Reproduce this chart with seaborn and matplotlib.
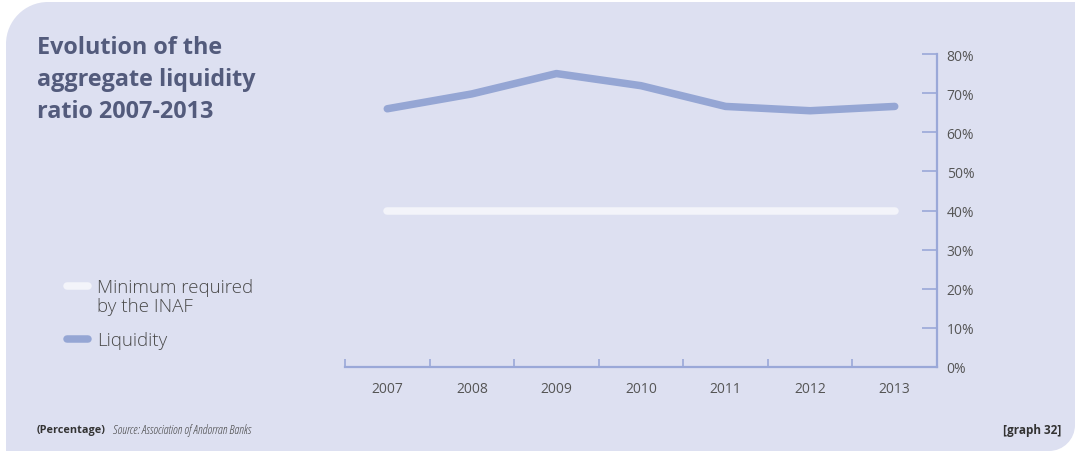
import numpy as np
import pandas as pd
import matplotlib
matplotlib.use("Agg")
import matplotlib.pyplot as plt
import seaborn as sns
from matplotlib.path import Path
from matplotlib.patches import PathPatch
from matplotlib.transforms import Affine2D
from matplotlib.lines import Line2D

# --- data -------------------------------------------------------------
years = ["2007", "2008", "2009", "2010", "2011", "2012", "2013"]
liquidity = [66.0, 69.8, 75.0, 71.9, 66.6, 65.5, 66.6]
minimum_required = [40, 40, 40, 40, 40, 40, 40]
y_ticks = [0, 10, 20, 30, 40, 50, 60, 70, 80]
series_names = ["Minimum required\nby the INAF", "Liquidity"]

# --- style ------------------------------------------------------------
PANEL = "#dde0f1"
LIQ = "#95a6d4"
MINC = "#f3f4fa"
AXIS = "#9aa8d8"
TITLE = "#535b7c"
TEXT = "#4a4a4a"

sns.set_theme(style="white")
plt.rcParams["font.family"] = ["Open Sans", "DejaVu Sans"]

W, H = 1077, 456
fig = plt.figure(figsize=(W / 100, H / 100), dpi=100)
fig.patch.set_facecolor("white")

# rounded panel: large radius top-left, small radius bottom-right
def panel_path(x0, y0, x1, y1, r_tl, r_br):
    k = 0.5523
    verts = [
        (x0, y0),                       # bottom-left (square)
        (x1 - r_br, y0),
        (x1 - r_br + k * r_br, y0), (x1, y0 + r_br - k * r_br), (x1, y0 + r_br),
        (x1, y1),                       # top-right (square)
        (x0 + r_tl, y1),
        (x0 + r_tl - k * r_tl, y1), (x0, y1 - r_tl + k * r_tl), (x0, y1 - r_tl),
        (x0, y0),
    ]
    codes = [Path.MOVETO, Path.LINETO,
             Path.CURVE4, Path.CURVE4, Path.CURVE4,
             Path.LINETO, Path.LINETO,
             Path.CURVE4, Path.CURVE4, Path.CURVE4,
             Path.CLOSEPOLY]
    return Path(verts, codes)

px = Affine2D().scale(1 / W, 1 / H) + fig.transFigure
panel = PathPatch(panel_path(6, H - 452, 1075, H - 3, 42, 26),
                  facecolor=PANEL, edgecolor="none", transform=px, zorder=-5)
fig.patches.append(panel)

# --- chart ------------------------------------------------------------
ax = fig.add_axes([345 / W, (H - 368) / H, (937 - 345) / W, (368 - 55) / H])
ax.set_facecolor("none")
ax.set_zorder(2)

df = pd.DataFrame({
    "year": years * 2,
    "value": minimum_required + liquidity,
    "series": [series_names[0]] * len(years) + [series_names[1]] * len(years),
})
sns.lineplot(data=df, x="year", y="value", hue="series",
             palette={series_names[0]: MINC, series_names[1]: LIQ},
             linewidth=5.4, sort=False, legend=False, ax=ax)
for ln in ax.lines:
    ln.set_solid_capstyle("round")
    ln.set_solid_joinstyle("round")

ax.set_xlim(-0.5, len(years) - 0.5)
ax.set_ylim(0, 80)
ax.set_xlabel("")
ax.set_ylabel("")

for s in ["top", "left"]:
    ax.spines[s].set_visible(False)
for s in ["bottom", "right"]:
    ax.spines[s].set_color(AXIS)
    ax.spines[s].set_linewidth(1.6)

# y-axis on the right, ticks pointing into the plot
ax.yaxis.tick_right()
ax.set_yticks(y_ticks)
ax.set_yticklabels([f"{v}%" for v in y_ticks])
ax.tick_params(axis="y", which="both", left=False, right=True, direction="in",
               length=10.5, width=1.2, color=AXIS,
               labelsize=10, labelcolor="#555555", pad=7)

# x labels centred in each band, ticks at band edges pointing up
ax.set_xticks(range(len(years)))
ax.set_xticklabels(years)
ax.set_xticks(np.arange(-0.5, len(years) - 0.5, 1.0), minor=True)
ax.tick_params(axis="x", which="both", bottom=True, top=False)
ax.tick_params(axis="x", which="major", length=0, labelsize=10,
               labelcolor="#555555", pad=10)
ax.tick_params(axis="x", which="minor", direction="in", length=5.5,
               width=1.2, color=AXIS)
ax.grid(False)

# --- legend (drawn in pixel space) ------------------------------------
legend_rows = [(287, 279), (340, 341)]   # (handle y, text anchor y) in px
for (hy, ty), name, col in zip(legend_rows, series_names, [MINC, LIQ]):
    fig.add_artist(Line2D([67 / W, 88 / W], [(H - hy) / H] * 2, color=col,
                          lw=5.4, solid_capstyle="round",
                          transform=fig.transFigure))
    fig.text(97 / W, (H - ty) / H, name, ha="left",
             va="top" if "\n" in name else "center",
             fontsize=13.5, fontweight="light", color=TEXT, linespacing=1.1,
             transform=fig.transFigure)

# --- text -------------------------------------------------------------
fig.text(37 / W, (H - 36) / H, "Evolution of the\naggregate liquidity\nratio 2007-2013",
         ha="left", va="top", fontsize=16.8, fontweight="bold", color=TITLE,
         linespacing=1.44)
fig.text(37 / W, (H - 431) / H, "(Percentage)", ha="left", va="center",
         fontsize=7.8, fontweight="bold", color="#333333")
fig.text(113 / W, (H - 431) / H, "Source: Association of Andorran Banks",
         ha="left", va="center", fontsize=8.8, style="italic", color="#444444",
         fontstretch="condensed")
fig.text(1061 / W, (H - 431) / H, "[graph 32]", ha="right", va="center",
         fontsize=8.5, fontweight="bold", color="#333333")

fig.savefig("out.png", dpi=100, facecolor=fig.get_facecolor())
